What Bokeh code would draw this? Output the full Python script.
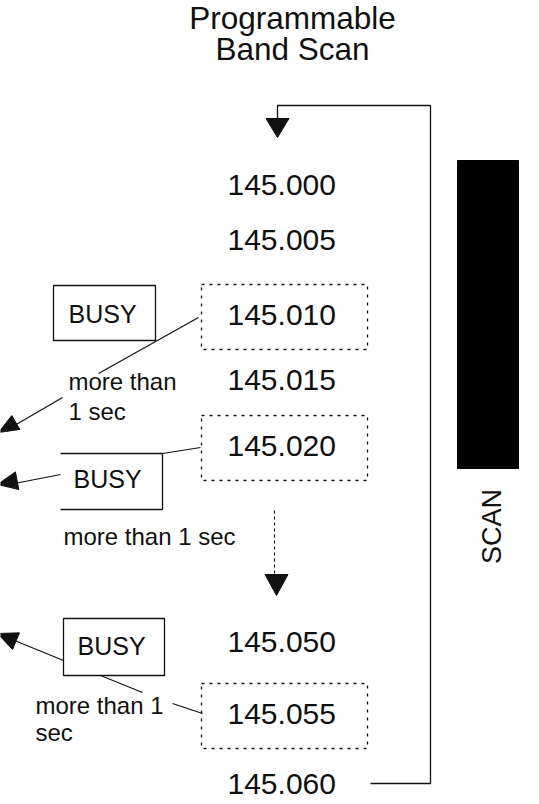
import math
from bokeh.plotting import figure
from bokeh.models import Range1d
from bokeh.core.properties import value
from bokeh.embed import file_html
from bokeh.resources import INLINE

# ---------------- content ----------------
title_lines = ["Programmable", "Band Scan"]
freqs = ["145.000", "145.005", "145.010", "145.015", "145.020",
         "145.050", "145.055", "145.060"]
held_freqs = ["145.010", "145.020", "145.055"]   # channels where scan stops (dotted boxes)
busy_label = "BUSY"
hold_text_1 = ["more than", "1 sec"]
hold_text_2 = ["more than 1 sec"]
hold_text_3 = ["more than 1", "sec"]
scan_label = "SCAN"

# ---------------- layout ----------------
INK = "#111111"
FONT = "Liberation Sans"
freq_x = 227
freq_base = [198, 253, 328, 393, 459, 655, 727, 797]
BASE_FIX = 0.45   # empirical shift of the alphabetic baseline (in em)

p = figure(width=539, height=804, x_range=Range1d(0, 539), y_range=Range1d(804, 0),
           output_backend="svg", toolbar_location=None, min_border=0,
           x_axis_type=None, y_axis_type=None)
p.outline_line_color = None
p.background_fill_color = "white"
p.border_fill_color = "white"


def txt(xs, ys, texts, size, align="left", angle=0.0, baseline="alphabetic"):
    if baseline == "alphabetic":
        ys = [y - BASE_FIX * size for y in ys]
    p.text(x=xs, y=ys, text=texts, text_align=align, text_baseline=baseline,
           text_font=value(FONT), text_font_size=f"{size}px", text_color=INK, angle=angle)


def tri(tip, d, length=20, hw=9):
    n = math.hypot(d[0], d[1])
    ux, uy = d[0] / n, d[1] / n
    bx, by = tip[0] - ux * length, tip[1] - uy * length
    px, py = -uy, ux
    return ([tip[0], bx + px * hw, bx - px * hw], [tip[1], by + py * hw, by - py * hw])


# title
txt([292, 292], [32, 63], title_lines, 31.5, align="center")

# frequencies
txt([freq_x] * len(freqs), freq_base, freqs, 30)

# dotted boxes around held frequencies
rows = [freqs.index(f) for f in held_freqs]
p.quad(left=[201] * len(rows), right=[367] * len(rows),
       top=[freq_base[r] - 44 for r in rows], bottom=[freq_base[r] + 21 for r in rows],
       fill_color=None, line_color=INK, line_width=1.3, line_dash="3 5")

# scan loop line
p.line(x=[277, 277, 430, 430, 370], y=[118, 105, 105, 783, 783], line_color=INK, line_width=1.3)

# arrowheads (down)
tx, ty = tri((277, 137), (0, 1), 19, 11.5)
tx2, ty2 = tri((276, 595), (0, 1), 21, 11.5)
# arrowheads (left)
ax1, ay1 = tri((-2, 432), (-187, 108), 20, 8)
ax2, ay2 = tri((-3, 484), (-47, 9), 20, 9)
ax3, ay3 = tri((-3, 633), (-53, -22), 20, 9)
p.patches(xs=[tx, tx2, ax1, ax2, ax3], ys=[ty, ty2, ay1, ay2, ay3],
          fill_color=INK, line_color=INK, line_width=1)

# dashed vertical line in the middle
p.line(x=[274, 274], y=[510, 574], line_color=INK, line_width=1.1, line_dash="3 3")

# connector lines
p.multi_line(xs=[[198, 98], [62, 14], [162, 200], [60, 14], [63, 14], [100, 142], [172, 202]],
             ys=[[317, 373], [397, 425], [453, 447], [474, 483], [660, 640], [675, 692], [703, 713]],
             line_color=INK, line_width=1.2)

# BUSY boxes
p.quad(left=[53, 63], right=[155, 164], top=[285, 618], bottom=[340, 675],
       fill_color=None, line_color=INK, line_width=1.3)
p.line(x=[60, 162, 162, 60], y=[453, 453, 509, 509], line_color=INK, line_width=1.3)
txt([68, 73, 77], [325, 490, 657], [busy_label] * 3, 25)

# hold texts
txt([68, 68], [392, 422], hold_text_1, 24)
txt([63], [547], hold_text_2, 24)
txt([35, 35], [716, 743], hold_text_3, 24)

# SCAN bar
p.quad(left=[457], right=[518], top=[160], bottom=[468], fill_color="black", line_color="black")
txt([491], [526], [scan_label], 27, align="center", angle=math.pi / 2, baseline="middle")

open("out.html", "w").write(file_html(p, INLINE))
